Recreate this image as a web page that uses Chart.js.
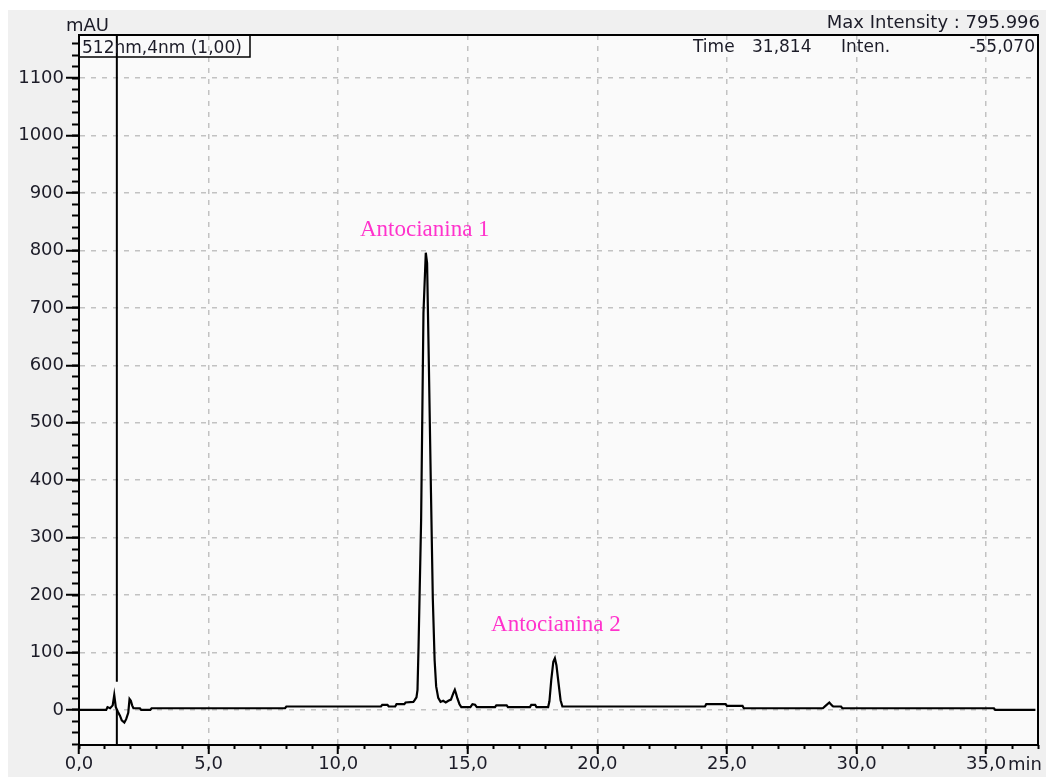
<!DOCTYPE html>
<html>
<head>
<meta charset="utf-8">
<title>Cromatograma 512 nm</title>
<script src="https://cdn.jsdelivr.net/npm/chart.js@4/dist/chart.umd.min.js"></script>
<style>
  html, body { margin: 0; padding: 0; background: #ffffff; }
  canvas { display: block; }
</style>
</head>
<body>
<canvas id="chrom" width="1046" height="777"></canvas>
<script>
// Retention time (min) and detector response (mAU) at 512 nm
const retentionTime = [
  0.0, 1.05, 1.1, 1.2, 1.3, 1.36, 1.42, 1.5, 1.58, 1.65, 1.75, 1.82, 1.9, 1.95, 2.0, 2.05, 2.1,
  2.35, 2.4, 2.75, 2.8, 7.95, 8.0, 11.65, 11.7, 11.9, 11.95, 12.2, 12.25, 12.55, 12.6, 12.9,
  12.95, 13.02, 13.06, 13.1, 13.2, 13.29, 13.38, 13.43, 13.5, 13.58, 13.65, 13.72, 13.78, 13.86,
  13.95, 14.05, 14.15, 14.25, 14.35, 14.45, 14.5, 14.55, 14.6, 14.68, 14.75, 15.1, 15.18, 15.28,
  15.35, 16.05, 16.1, 16.5, 16.55, 17.4, 17.45, 17.6, 17.65, 18.1, 18.15, 18.22, 18.3, 18.36,
  18.42, 18.5, 18.58, 18.65, 24.15, 24.2, 24.95, 25.0, 25.6, 25.65, 28.7, 28.8, 28.95, 29.05,
  29.1, 29.4, 29.45, 35.3, 35.35, 36.9
];
const absorbance = [
  0, 0, 5, 3, 8, 26, 5, -3, -10, -18, -22, -16, -5, 19, 16, 8, 3,
  3, 0, 0, 3, 3, 6, 6, 9, 9, 6, 6, 10, 10, 13, 14,
  17, 22, 35, 110, 331, 691, 795.996, 778, 597, 378, 195, 87, 41, 21,
  14, 16, 13, 16, 18, 30, 35, 28, 20, 10, 5, 5, 10, 9,
  5, 5, 8, 8, 5, 5, 9, 9, 5, 5, 15, 52, 84, 90,
  78, 47, 17, 6, 6, 10, 10, 7, 7, 3, 3, 7, 13, 8,
  6, 6, 3, 3, 0, 0
];

// Axis ticks
const timeTicks = [0, 5, 10, 15, 20, 25, 30, 35];
const mauTicks = [0, 100, 200, 300, 400, 500, 600, 700, 800, 900, 1000, 1100];

// Peak labels: text with anchor (min, mAU)
const peakNames = ['Antocianina 1', 'Antocianina 2'];
const peakLabelTime = [10.84, 15.9];
const peakLabelMau = [825, 137];

// Cursor and header readouts
const cursorTime = 1.46;
const headerMax = 'Max Intensity : 795.996';
const channelLabel = '512nm,4nm (1,00)';
const readTime = '31,814';
const readInten = '-55,070';

const X_MIN = 0, X_MAX = 37.0;
const Y_MIN = -61, Y_MAX = 1175;

const UI_FONT = '"DejaVu Sans", sans-serif';
const TEXT_COLOR = '#1c1c28';
const GRID_COLOR = '#c2c2c2';
const GRID_DASH = [5, 6];

function commaDecimal(v) { return v.toFixed(1).replace('.', ','); }
function stepRange(a, b, s) { const out = []; for (let v = a; v <= b + 1e-9; v += s) out.push({ value: Math.round(v * 1000) / 1000 }); return out; }

const tracePoints = retentionTime.map((t, i) => ({ x: t, y: absorbance[i] }));
const cursorPoints = [
  { x: cursorTime, y: Y_MIN }, { x: cursorTime, y: 0 },
  { x: cursorTime, y: null },
  { x: cursorTime, y: 49 }, { x: cursorTime, y: Y_MAX }
];

// Panel background, plot frame and text overlays
const panelPlugin = {
  id: 'panel',
  beforeDraw(chart) {
    const { ctx, chartArea: a, width, height } = chart;
    ctx.save();
    ctx.fillStyle = '#ffffff';
    ctx.fillRect(0, 0, width, height);
    ctx.fillStyle = '#f0f0f0';
    ctx.fillRect(8, 10, width - 8, height - 10);
    ctx.fillStyle = '#fafafa';
    ctx.fillRect(a.left, a.top, a.right - a.left, a.bottom - a.top);
    ctx.restore();
  },
  afterDraw(chart) {
    const { ctx, chartArea: a, scales } = chart;
    ctx.save();
    // top and right frame
    ctx.strokeStyle = '#000';
    ctx.lineWidth = 2;
    ctx.beginPath();
    ctx.moveTo(a.left, a.top);
    ctx.lineTo(a.right, a.top);
    ctx.lineTo(a.right, a.bottom);
    ctx.stroke();

    ctx.font = '18px ' + UI_FONT;
    ctx.fillStyle = TEXT_COLOR;
    ctx.textBaseline = 'alphabetic';
    ctx.textAlign = 'left';
    ctx.fillText('mAU', 66, 31);
    ctx.textAlign = 'right';
    ctx.fillText(headerMax, 1040, 28);

    // readout row
    ctx.font = '17px ' + UI_FONT;
    ctx.textAlign = 'left';
    ctx.fillText('Time', 693, 52);
    ctx.fillText(readTime, 752, 52);
    ctx.fillText('Inten.', 841, 52);
    ctx.textAlign = 'right';
    ctx.fillText(readInten, 1035, 52);

    // channel box
    ctx.textAlign = 'left';
    ctx.fillText(channelLabel, 82, 53);
    ctx.lineWidth = 1.5;
    ctx.strokeRect(a.left, a.top, 171, 22);

    // axis unit next to last time label
    ctx.font = '18px ' + UI_FONT;
    ctx.textAlign = 'left';
    ctx.textBaseline = 'middle';
    ctx.fillText('min', 1008, 765);

    // peak labels
    ctx.font = '23px "Liberation Serif", "Times New Roman", serif';
    ctx.fillStyle = '#ff33cc';
    ctx.textBaseline = 'alphabetic';
    peakNames.forEach((name, i) => {
      const px = scales.x.getPixelForValue(peakLabelTime[i]);
      const py = scales.y.getPixelForValue(peakLabelMau[i]);
      ctx.fillText(name, px, py);
    });
    ctx.restore();
  }
};

new Chart(document.getElementById('chrom'), {
  type: 'line',
  data: {
    datasets: [
      {
        label: channelLabel,
        data: tracePoints,
        borderColor: '#000000',
        borderWidth: 2.2,
        pointRadius: 0,
        tension: 0,
        xAxisID: 'x',
        yAxisID: 'y'
      },
      {
        label: 'cursor',
        data: cursorPoints,
        borderColor: '#000000',
        borderWidth: 2,
        pointRadius: 0,
        spanGaps: false,
        xAxisID: 'x',
        yAxisID: 'y'
      }
    ]
  },
  options: {
    responsive: false,
    devicePixelRatio: 1,
    animation: false,
    events: [],
    layout: { padding: { left: 0, right: 8, top: 35, bottom: 0 } },
    plugins: { legend: { display: false }, tooltip: { enabled: false } },
    scales: {
      x: {
        type: 'linear', position: 'bottom', min: X_MIN, max: X_MAX, weight: 1,
        afterBuildTicks: s => { s.ticks = timeTicks.map(v => ({ value: v })); },
        afterFit: s => { s.height = 32; },
        grid: {
          color: GRID_COLOR, lineWidth: 1.5,
          tickColor: '#000', tickWidth: 2, tickLength: 9, tickBorderDash: []
        },
        border: { display: true, color: '#000', width: 2, dash: GRID_DASH },
        ticks: {
          autoSkip: false, maxRotation: 0, padding: 0, color: TEXT_COLOR,
          font: { family: UI_FONT, size: 18 },
          callback: v => commaDecimal(v)
        }
      },
      xMinor: {
        type: 'linear', position: 'bottom', min: X_MIN, max: X_MAX, weight: 0,
        afterBuildTicks: s => { s.ticks = stepRange(0, 37, 1); },
        afterFit: s => { s.height = 0; },
        grid: { drawOnChartArea: false, tickColor: '#000', tickWidth: 2, tickLength: 4 },
        border: { display: false },
        ticks: { display: false }
      },
      y: {
        type: 'linear', position: 'left', min: Y_MIN, max: Y_MAX, weight: 1,
        afterBuildTicks: s => { s.ticks = mauTicks.map(v => ({ value: v })); },
        afterFit: s => { s.width = 79; },
        grid: {
          color: GRID_COLOR, lineWidth: 1.5,
          tickColor: '#000', tickWidth: 2, tickLength: 13, tickBorderDash: []
        },
        border: { display: true, color: '#000', width: 2, dash: GRID_DASH },
        ticks: {
          autoSkip: false, padding: 2, color: TEXT_COLOR,
          font: { family: UI_FONT, size: 18 },
          callback: v => String(v)
        }
      },
      yMinor: {
        type: 'linear', position: 'left', min: Y_MIN, max: Y_MAX, weight: 0,
        afterBuildTicks: s => { s.ticks = stepRange(-60, 1160, 20); },
        afterFit: s => { s.width = 0; },
        grid: { drawOnChartArea: false, tickColor: '#000', tickWidth: 2, tickLength: 7 },
        border: { display: false },
        ticks: { display: false }
      }
    }
  },
  plugins: [panelPlugin]
});
</script>
</body>
</html>
